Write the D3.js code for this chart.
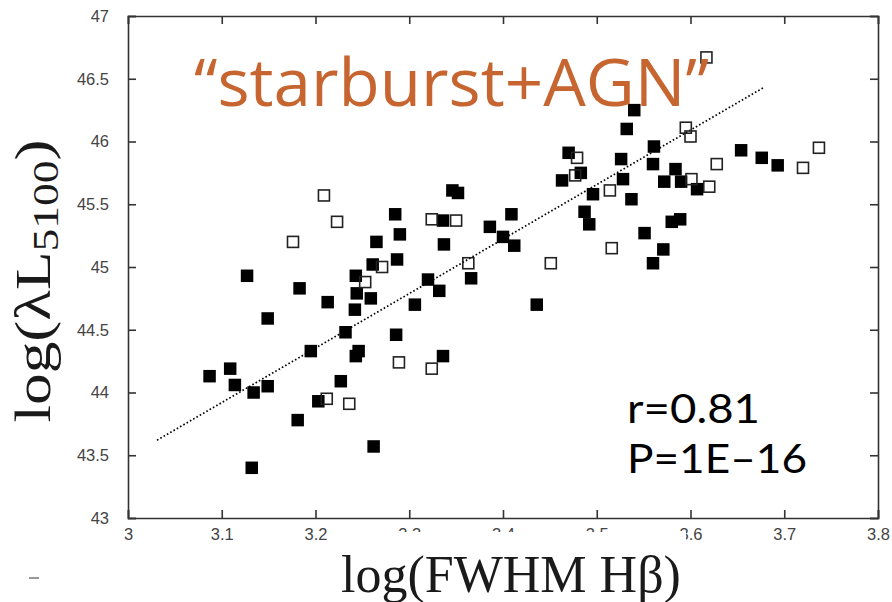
<!DOCTYPE html>
<html>
<head>
<meta charset="utf-8">
<script src="https://cdn.jsdelivr.net/npm/d3@7"></script>
<style>
html,body{margin:0;padding:0;background:#fff;}
svg{display:block;}
</style>
</head>
<body>
<svg id="chart" width="892" height="602"></svg>
<script>
// ---- data ----
const filledX = [3.087,3.109,3.114,3.134,3.149,3.132,3.181,3.203,3.227,3.262,3.127,3.183,3.149,3.213,3.243,3.244,3.242,3.259,3.265,3.261,3.285,3.290,3.287,3.232,3.195,3.246,3.243,3.286,3.346,3.352,3.336,3.337,3.409,3.386,3.400,3.412,3.320,3.332,3.306,3.366,3.336,3.436,3.496,3.537,3.487,3.492,3.551,3.571,3.560,3.580,3.589,3.540,3.532,3.470,3.526,3.561,3.560,3.463,3.483,3.528,3.584,3.572,3.590,3.607,3.654,3.676,3.693];
const filledY = [44.13,44.19,44.06,44.00,44.05,43.40,43.78,43.93,44.09,43.57,44.93,44.83,44.59,44.72,44.93,44.79,44.66,44.75,45.20,45.02,45.42,45.26,45.06,44.48,44.33,44.33,44.29,44.46,45.61,45.59,45.37,45.18,45.42,45.32,45.24,45.17,44.90,44.81,44.70,44.91,44.29,44.70,45.58,45.54,45.44,45.34,45.27,45.14,45.03,45.36,45.38,46.25,46.10,45.91,45.86,45.96,45.82,45.69,45.75,45.70,45.78,45.68,45.68,45.62,45.93,45.87,45.81];
const openX = [3.209,3.223,3.176,3.271,3.253,3.289,3.212,3.236,3.324,3.324,3.350,3.363,3.451,3.516,3.514,3.477,3.479,3.595,3.600,3.617,3.628,3.601,3.620,3.720,3.737];
const openY = [45.57,45.36,45.20,45.00,44.88,44.24,43.95,43.91,44.19,45.38,45.37,45.03,45.03,45.15,45.61,45.73,45.87,46.11,46.04,46.67,45.82,45.70,45.64,45.79,45.95];
const fitX = [3.031, 3.678];
const fitY = [43.62, 46.43];
const xTicks = [3,3.1,3.2,3.3,3.4,3.5,3.6,3.7,3.8];
const yTicks = [43,43.5,44,44.5,45,45.5,46,46.5,47];
const titleText = "\u201Cstarburst+AGN\u201D";
const statR = "r=0.81";
const statP = "P=1E\u201316";

// ---- layout ----
const L = 128, R = 878, T = 16, B = 518;
const svg = d3.select("#chart");
const x = d3.scaleLinear().domain([3, 3.8]).range([L, R]);
const y = d3.scaleLinear().domain([43, 47]).range([B, T]);

const tickFont = "'Liberation Sans', Arial, sans-serif";
const tickColor = "#444";

// axes with inward ticks
const axB = d3.axisBottom(x).tickValues(xTicks).tickSize(-8).tickPadding(10).tickFormat(d3.format(""));
const axT = d3.axisTop(x).tickValues(xTicks).tickSize(-8).tickFormat("");
const axL = d3.axisLeft(y).tickValues(yTicks).tickSize(-8).tickPadding(19).tickFormat(d3.format(""));
const axR = d3.axisRight(y).tickValues(yTicks).tickSize(-8).tickFormat("");

function style(g){
  g.select(".domain").attr("stroke","#333").attr("stroke-width",1.6);
  g.selectAll(".tick line").attr("stroke","#333").attr("stroke-width",1.6);
  g.selectAll(".tick text").attr("fill",tickColor).style("font-family",tickFont).style("font-size","16.5px");
}
svg.append("g").attr("transform",`translate(0,${B})`).call(axB).call(style);
svg.append("g").attr("transform",`translate(0,${T})`).call(axT).call(style);
svg.append("g").attr("transform",`translate(${L},0)`).call(axL).call(style);
svg.append("g").attr("transform",`translate(${R},0)`).call(axR).call(style);

// fit line (dotted)
svg.append("line")
  .attr("x1", x(fitX[0])).attr("y1", y(fitY[0]))
  .attr("x2", x(fitX[1])).attr("y2", y(fitY[1]))
  .attr("stroke","#000").attr("stroke-width",1.7).attr("stroke-dasharray","1.6,2.2");

// filled squares
const fs = 12.5;
svg.append("g").selectAll("rect").data(filledX.map((d,i)=>[d,filledY[i]])).join("rect")
  .attr("x", d=>x(d[0])-fs/2).attr("y", d=>y(d[1])-fs/2)
  .attr("width", fs).attr("height", fs).attr("fill","#000");

// open squares
const os = 11;
svg.append("g").selectAll("rect").data(openX.map((d,i)=>[d,openY[i]])).join("rect")
  .attr("x", d=>x(d[0])-os/2).attr("y", d=>y(d[1])-os/2)
  .attr("width", os).attr("height", os).attr("fill","none")
  .attr("stroke","#222").attr("stroke-width",1.6);

// white patch behind x title (covers part of tick labels as in reference)
svg.append("rect").attr("x",336).attr("y",532).attr("width",350).attr("height",70).attr("fill","#fff");

// x axis title
svg.append("text").attr("x",511).attr("y",592).attr("text-anchor","middle")
  .style("font-family","'Liberation Serif','Times New Roman',serif").style("font-size","52px").attr("fill","#1a1a1a")
  .text("log(FWHM H\u03B2)");

// y axis title
const yt = svg.append("g").attr("transform","translate(50,281) rotate(-90)");
const ytxt = yt.append("text").attr("text-anchor","middle")
  .style("font-family","'Liberation Serif','Times New Roman',serif").style("font-size","50px").attr("fill","#1a1a1a");
ytxt.append("tspan").text("log(\u03BBL");
ytxt.append("tspan").attr("dy",8).style("font-size","36px").text("5100");
ytxt.append("tspan").attr("dy",-8).text(")");
const bw = ytxt.node().getBBox().width;
ytxt.attr("transform",`scale(${283/bw},1)`);

// stray mark bottom-left
svg.append("line").attr("x1",29).attr("x2",39).attr("y1",578).attr("y2",578).attr("stroke","#777").attr("stroke-width",1.5);

// title
svg.append("text").attr("x",194).attr("y",106)
  .style("font-family","'Open Sans', sans-serif").style("font-size","66px").style("font-weight",500)
  .attr("fill","#C6652F").attr("textLength",515).attr("lengthAdjust","spacingAndGlyphs")
  .text(titleText);

// stats
const statFont = "Lato, 'Open Sans', sans-serif";
svg.append("text").attr("x",627).attr("y",423).style("font-family",statFont).style("font-size","41px")
  .attr("fill","#000").attr("textLength",133).attr("lengthAdjust","spacingAndGlyphs").text(statR);
svg.append("text").attr("x",627).attr("y",473).style("font-family",statFont).style("font-size","41px")
  .attr("fill","#000").attr("textLength",180).attr("lengthAdjust","spacingAndGlyphs").text(statP);
</script>
</body>
</html>
